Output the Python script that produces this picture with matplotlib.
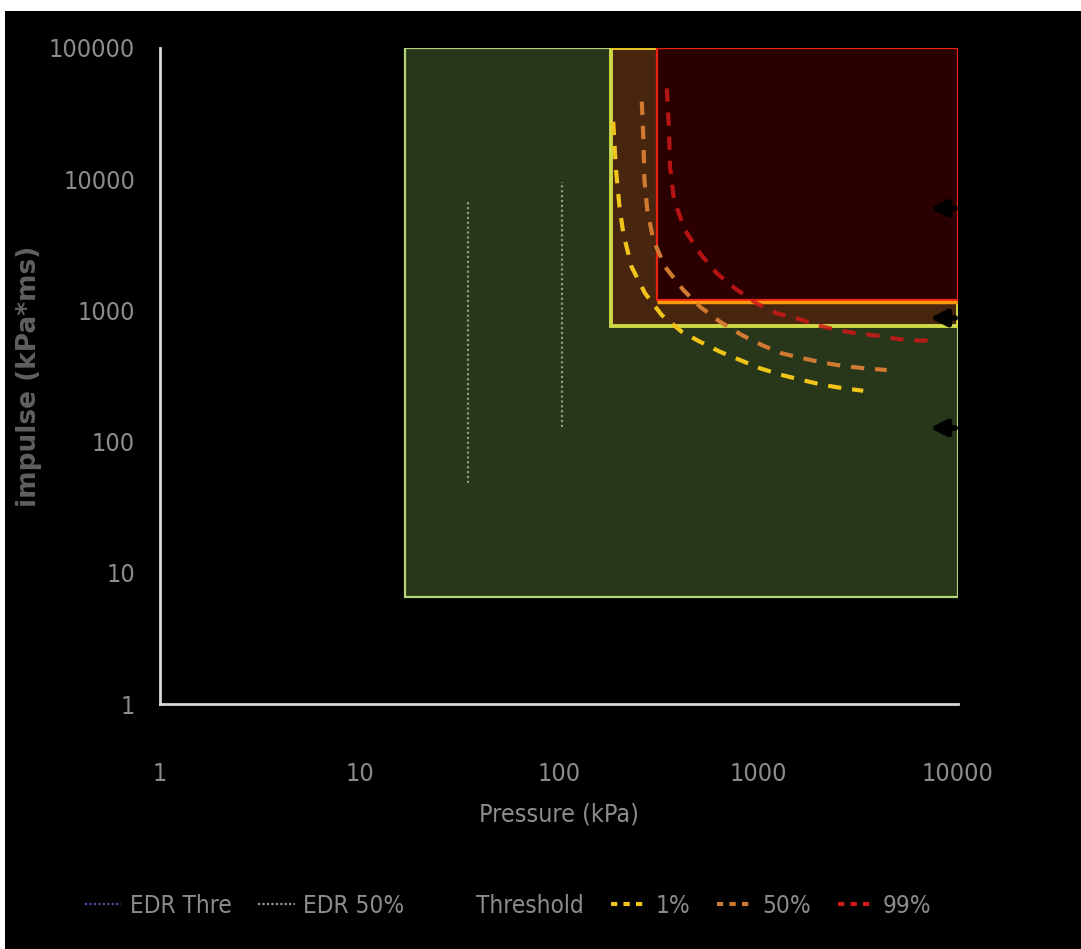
import matplotlib
matplotlib.use("Agg")
import matplotlib.pyplot as plt
from matplotlib.patches import Rectangle
from matplotlib.lines import Line2D
from matplotlib import font_manager

# --- data ---
# zones (pressure range, impulse range)
zone_green_p = [17, 10000]
zone_green_i = [6.5, 100000]
zone_brown_p = [182, 10000]
zone_brown_i = [760, 100000]
zone_red_p = [310, 10000]
zone_red_i = [1200, 100000]

# probability curves
p1 = [187, 193, 201, 210, 231, 270, 327, 412, 509, 641, 807, 1018, 1307, 1648, 2113, 2661, 3350]
i1 = [27400, 11750, 6170, 3870, 2150, 1350, 923, 688, 577, 484, 419, 362, 322, 295, 270, 255, 244]
p50 = [260, 265, 268, 277, 297, 340, 420, 509, 641, 824, 1038, 1307, 1678, 2113, 2661, 3420, 4394]
i50 = [39000, 19900, 9860, 5825, 3440, 2150, 1430, 1067, 820, 649, 545, 471, 431, 399, 377, 362, 351]
p99 = [347, 356, 360, 377, 428, 509, 618, 762, 979, 1233, 1553, 1958, 2466, 3105, 4064, 5117, 6450, 7966]
i99 = [49300, 23700, 12450, 6940, 4100, 2720, 1918, 1474, 1132, 950, 871, 774, 709, 669, 638, 602, 588, 595]

# EDR vertical lines
edr_thre_p = [35, 35]
edr_thre_i = [48, 6900]
edr50_p = [104, 104]
edr50_i = [130, 9600]

# threshold arrows
arrow_i = [6000, 875, 127]
arrow_p_start = 10000
arrow_p_end = 7000

xticks = [1, 10, 100, 1000, 10000]
yticks = [1, 10, 100, 1000, 10000, 100000]

# pick a narrow face if one is around
names = {f.name for f in font_manager.fontManager.ttflist}
narrow_name = "Liberation Sans Narrow" if "Liberation Sans Narrow" in names else "DejaVu Sans"
narrow = dict(family=[narrow_name, "DejaVu Sans"], stretch="condensed")
tick_col = "#8c8c8c"

fig = plt.figure(figsize=(10.81, 9.49), dpi=100)
fig.patch.set_facecolor("black")
fig.add_artist(Rectangle((0, 1 - 11 / 949), 1, 11 / 949, transform=fig.transFigure,
                         facecolor="white", edgecolor="none"))
fig.add_artist(Rectangle((0, 0), 5 / 1081, 1, transform=fig.transFigure,
                         facecolor="white", edgecolor="none"))

ax = fig.add_axes([160 / 1081, 1 - 704 / 949, 798 / 1081, 656 / 949])
ax.set_facecolor("black")
ax.set_xscale("log")
ax.set_yscale("log")
ax.set_xlim(1, 10000)
ax.set_ylim(1, 100000)

# zones
ax.add_patch(Rectangle((zone_green_p[0], zone_green_i[0]), zone_green_p[1] - zone_green_p[0],
                       zone_green_i[1] - zone_green_i[0], facecolor="#28361a",
                       edgecolor="#b4d47a", lw=1.6, zorder=1))
ax.add_patch(Rectangle((zone_brown_p[0], zone_brown_i[0]), zone_brown_p[1] - zone_brown_p[0],
                       zone_brown_i[1] - zone_brown_i[0], facecolor="#48250f",
                       edgecolor="#cfd845", lw=2.8, zorder=2))
ax.hlines(zone_brown_i[1], zone_brown_p[0], zone_red_p[0], color="#e6c020", lw=2, zorder=3)
ax.add_patch(Rectangle((zone_red_p[0], zone_red_i[0]), zone_red_p[1] - zone_red_p[0],
                       zone_red_i[1] - zone_red_i[0], facecolor="#2a0000",
                       edgecolor="#ee2010", lw=1.6, zorder=3))
ax.hlines(zone_red_i[0] * 0.97, zone_red_p[0], zone_red_p[1], color="#ff9a10", lw=2.5, zorder=3)

# EDR lines
ax.plot(edr_thre_p, edr_thre_i, ls=(0, (1, 1.2)), color="#8e9a84", lw=1.6, zorder=4)
ax.plot(edr50_p, edr50_i, ls=(0, (1, 1.2)), color="#8e9a84", lw=1.6, zorder=4)

# curves
dash = (0, (3.2, 2.6))
ax.plot(p1, i1, ls=dash, color="#f0c419", lw=3, zorder=5, clip_on=False)
ax.plot(p50, i50, ls=dash, color="#cf7a30", lw=3, zorder=5, clip_on=False)
ax.plot(p99, i99, ls=dash, color="#d01818", lw=3, alpha=0.85, zorder=5, clip_on=False)

# arrows
for y in arrow_i:
    ax.annotate("", xy=(arrow_p_end, y), xytext=(arrow_p_start, y),
                arrowprops=dict(arrowstyle="-|>", color="black", lw=4,
                                mutation_scale=24), zorder=6)

ax.set_xticks(xticks)
ax.set_xticklabels([str(v) for v in xticks])
ax.set_yticks(yticks)
ax.set_yticklabels([str(v) for v in yticks])
ax.minorticks_off()
ax.tick_params(axis="both", length=0, colors=tick_col, labelsize=18)
ax.tick_params(axis="x", pad=42)
ax.tick_params(axis="y", pad=18)
for lab in ax.get_xticklabels() + ax.get_yticklabels():
    lab.set_family(narrow["family"])
    lab.set_stretch("condensed")

for s in ["top", "right"]:
    ax.spines[s].set_visible(False)
for s in ["left", "bottom"]:
    ax.spines[s].set_color("#d9d9d9")
    ax.spines[s].set_linewidth(2)

ax.set_xlabel("Pressure (kPa)", fontsize=18, color=tick_col, **narrow)
ax.xaxis.set_label_coords(0.5, -0.15)
ax.set_ylabel("impulse (kPa*ms)", fontsize=19, color="#606060", fontweight="bold")
ax.yaxis.set_label_coords(-0.148, 0.5)

handles = [
    Line2D([], [], color="#4a4aa8", ls=(0, (1, 1)), lw=1.6),
    Line2D([], [], color="#8e9a84", ls=(0, (1, 1)), lw=1.6),
    Line2D([], [], color="black", lw=2),
    Line2D([], [], color="#f0c419", ls=(0, (1.5, 1.5)), lw=3),
    Line2D([], [], color="#cf7a30", ls=(0, (1.5, 1.5)), lw=3),
    Line2D([], [], color="#d01818", ls=(0, (1.5, 1.5)), lw=3),
]
labels = ["EDR Thre", "EDR 50%", "Threshold", "1%", "50%", "99%"]
leg = fig.legend(handles, labels, loc="center", bbox_to_anchor=(508 / 1081, 1 - 906 / 949),
                 ncol=6, frameon=False, handlelength=1.5,
                 handletextpad=0.35, columnspacing=1.1,
                 prop=dict(size=17.5, **narrow))
for t in leg.get_texts():
    t.set_color(tick_col)

fig.savefig("out.png", dpi=100, facecolor=fig.get_facecolor())
